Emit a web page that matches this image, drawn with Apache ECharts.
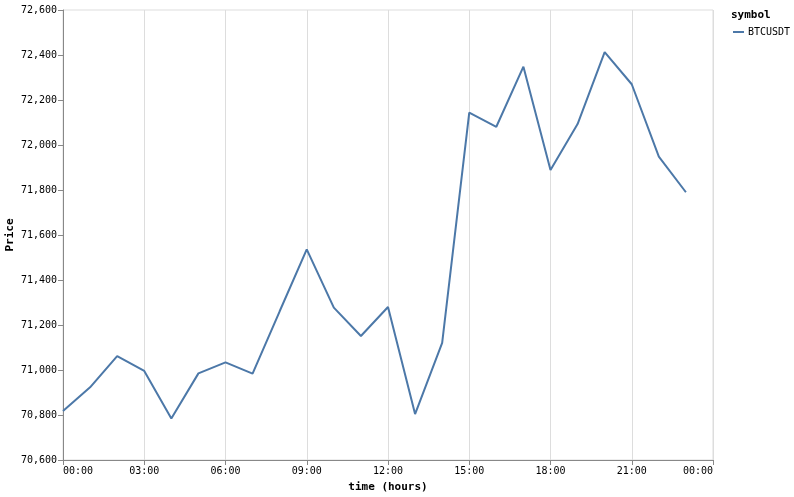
<!DOCTYPE html>
<html>
<head>
<meta charset="utf-8">
<script src="https://cdn.jsdelivr.net/npm/echarts@6/dist/echarts.min.js"></script>
<style>html,body{margin:0;padding:0;background:#fff}#c{width:794px;height:497px}</style>
</head>
<body>
<div id="c"></div>
<script>
var hours = [0,1,2,3,4,5,6,7,8,9,10,11,12,13,14,15,16,17,18,19,20,21,22,23];
var prices = [70818,70923,71062,70996,70784,70985,71034,70984,71261,71536,71277,71151,71280,70804,71121,72144,72081,72348,71889,72093,72413,72270,71948,71790];
var seriesName = 'BTCUSDT';
var legendTitle = 'symbol';
var xTitle = 'time (hours)';
var yTitle = 'Price';

var chart = echarts.init(document.getElementById('c'));
var mono = 'DejaVu Sans Mono';
chart.setOption({
  animation: false,
  backgroundColor: '#fff',
  title: {
    text: legendTitle, left: 726, top: 5,
    textStyle: {fontFamily: mono, fontSize: 11, fontWeight: 'bold', color: '#000'}
  },
  legend: {
    data: [seriesName], left: 728, top: 22, orient: 'vertical',
    itemWidth: 11, itemHeight: 2, icon: 'rect', itemGap: 4,
    textStyle: {fontFamily: mono, fontSize: 10, color: '#000', padding: [0,0,0,-1]}
  },
  grid: {left: 63, right: 81, top: 10, bottom: 37, show: true, borderColor: '#ddd', borderWidth: 1,
         containLabel: false, outerBoundsMode: 'none'},
  xAxis: {
    type: 'value', min: 0, max: 24, interval: 3,
    name: xTitle, nameLocation: 'middle', nameGap: 22, nameMoveOverlap: false,
    nameTextStyle: {fontFamily: mono, fontSize: 11, fontWeight: 'bold', color: '#000'},
    axisLine: {lineStyle: {color: '#888'}},
    axisTick: {length: 5, lineStyle: {color: '#888'}},
    axisLabel: {
      fontFamily: mono, fontSize: 10, color: '#000', margin: 6,
      alignMinLabel: 'left', alignMaxLabel: 'right',
      formatter: function (v) { var h = v % 24; return (h < 10 ? '0' : '') + h + ':00'; }
    },
    splitLine: {show: true, lineStyle: {color: '#ddd'}}
  },
  yAxis: {
    type: 'value', min: 70600, max: 72600, interval: 200,
    name: yTitle, nameLocation: 'middle', nameGap: 47, nameRotate: 90, nameMoveOverlap: false,
    nameTextStyle: {fontFamily: mono, fontSize: 11, fontWeight: 'bold', color: '#000'},
    axisLine: {show: true, lineStyle: {color: '#888'}},
    axisTick: {show: true, length: 5, lineStyle: {color: '#888'}},
    axisLabel: {
      fontFamily: mono, fontSize: 10, color: '#000', margin: 6,
      formatter: function (v) { return v.toString().replace(/\B(?=(\d{3})+(?!\d))/g, ','); }
    },
    splitLine: {show: false}
  },
  series: [{
    name: seriesName, type: 'line',
    data: hours.map(function (h, i) { return [h, prices[i]]; }),
    showSymbol: false, symbol: 'none',
    lineStyle: {color: '#4c78a8', width: 2},
    itemStyle: {color: '#4c78a8'}
  }]
});
</script>
</body>
</html>
